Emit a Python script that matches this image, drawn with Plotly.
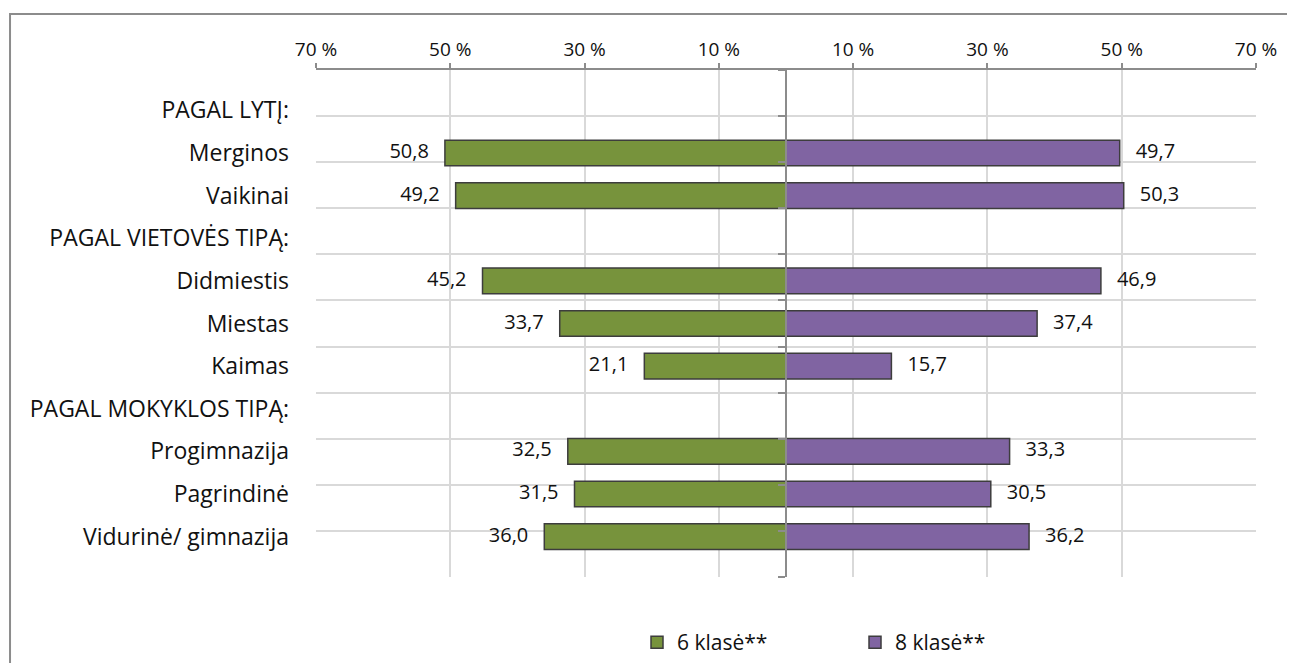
import plotly.graph_objects as go

categories = ["PAGAL LYTĮ:", "Merginos", "Vaikinai", "PAGAL VIETOVĖS TIPĄ:", "Didmiestis",
              "Miestas", "Kaimas", "PAGAL MOKYKLOS TIPĄ:", "Progimnazija", "Pagrindinė",
              "Vidurinė/ gimnazija"]
klase6 = [None, 50.8, 49.2, None, 45.2, 33.7, 21.1, None, 32.5, 31.5, 36.0]
klase8 = [None, 49.7, 50.3, None, 46.9, 37.4, 15.7, None, 33.3, 30.5, 36.2]
tick_values = [-70, -50, -30, -10, 10, 30, 50, 70]
series_names = ["6 klasė**", "8 klasė**"]

FONT = "'Open Sans', 'Noto Sans', sans-serif"
TXT = "#111111"
GREEN = "#77933C"
PURPLE = "#8064A2"
EDGE = "#3d3d3d"

def fmt(v):
    return "" if v is None else f"{v:.1f}".replace(".", ",")

neg6 = [None if v is None else -v for v in klase6]

fig = go.Figure()
fig.add_trace(go.Bar(
    y=categories, x=neg6, orientation="h",
    name=series_names[0], marker=dict(color=GREEN, line=dict(color=EDGE, width=1.5)),
    width=0.6, hoverinfo="skip"))
fig.add_trace(go.Bar(
    y=categories, x=klase8, orientation="h",
    name=series_names[1], marker=dict(color=PURPLE, line=dict(color=EDGE, width=1.5)),
    width=0.6, hoverinfo="skip"))
# value labels
fig.add_trace(go.Scatter(
    y=categories, x=neg6, mode="markers+text", text=[fmt(v) for v in klase6],
    textposition="middle left", marker=dict(size=24, opacity=0),
    textfont=dict(family=FONT, size=20, color=TXT), showlegend=False, hoverinfo="skip",
    cliponaxis=False))
fig.add_trace(go.Scatter(
    y=categories, x=klase8, mode="markers+text", text=[fmt(v) for v in klase8],
    textposition="middle right", marker=dict(size=24, opacity=0),
    textfont=dict(family=FONT, size=20, color=TXT), showlegend=False, hoverinfo="skip",
    cliponaxis=False))
# helper trace to activate the grid / centre axis
fig.add_trace(go.Scatter(x=[None], y=[None], yaxis="y2", showlegend=False, hoverinfo="skip"))

fig.update_layout(
    width=1287, height=655,
    margin=dict(l=308, r=39, t=62, b=86),
    paper_bgcolor="white", plot_bgcolor="white",
    barmode="overlay",
    font=dict(family=FONT, size=20, color=TXT),
    xaxis=dict(range=[-70, 70], side="top", tickvals=tick_values,
               ticktext=[f"{abs(v)} %" for v in tick_values],
               tickfont=dict(size=19, color=TXT),
               showgrid=True, gridcolor="#d9d9d9", gridwidth=1.5,
               showline=True, linecolor="#8c8c8c", linewidth=1.5,
               ticks="outside", ticklen=5, tickcolor="#8c8c8c", tickwidth=1.5,
               zeroline=False, fixedrange=True),
    yaxis=dict(categoryorder="array", categoryarray=categories, autorange="reversed",
               showgrid=False, zeroline=False, showline=False, ticks="",
               ticklabelstandoff=26, tickfont=dict(size=23, color=TXT),
               range=[10.5, -0.5]),
    yaxis2=dict(overlaying="y", anchor="free", position=0.5, range=[10.5, -0.5],
                tick0=0.5, dtick=1, showticklabels=False,
                showgrid=True, gridcolor="#d9d9d9", gridwidth=1.5,
                showline=True, linecolor="#8c8c8c", linewidth=1.5,
                ticks="outside", ticklen=7, tickcolor="#8c8c8c", tickwidth=1.5,
                zeroline=False),
    legend=dict(orientation="h", x=0.3415, xanchor="left", xref="paper",
                y=0.0, yanchor="bottom", yref="container",
                font=dict(size=21, color=TXT), entrywidth=173, entrywidthmode="pixels",
                traceorder="normal", itemwidth=30),
    shapes=[
        dict(type="rect", xref="paper", yref="paper", x0=-0.3255, x1=1.06, y0=-0.25, y1=1.1105,
             line=dict(color="#8c8c8c", width=2), fillcolor="rgba(0,0,0,0)", layer="below"),
    ],
)

fig.write_html("out.html")
